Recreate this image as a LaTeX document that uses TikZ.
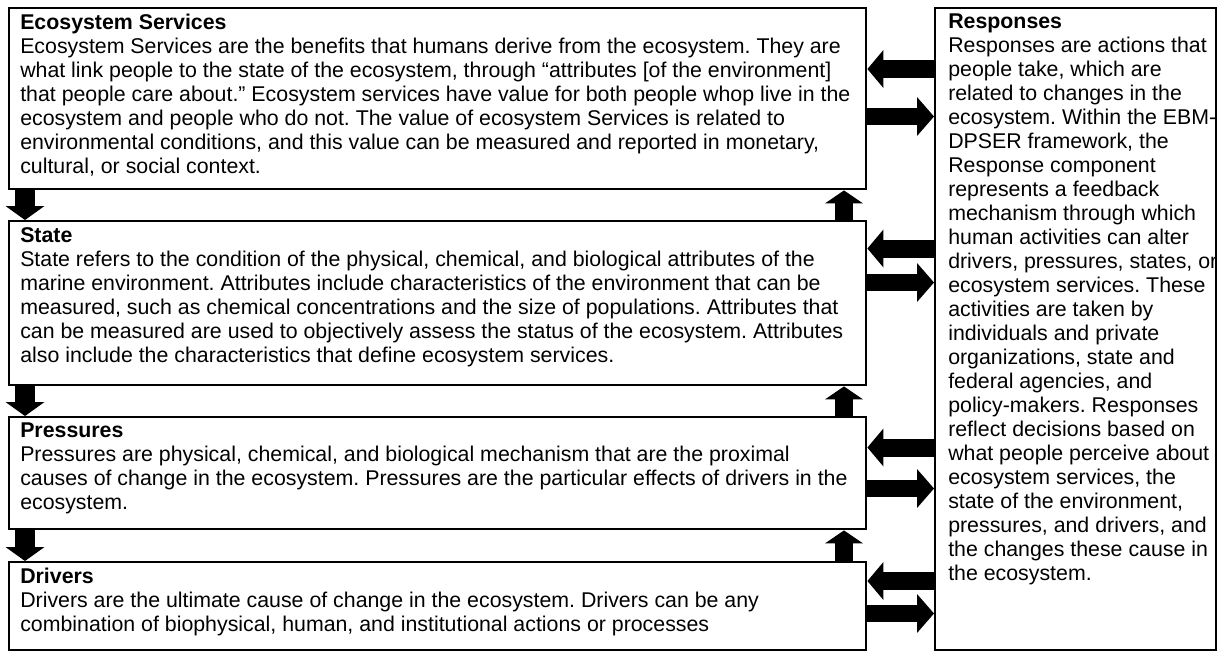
\documentclass[tikz,border=0pt]{standalone}
\usepackage{fontspec}
\setmainfont{Liberation Sans}
\usetikzlibrary{arrows.meta,calc}
\tikzset{
  frame/.style={draw=black, line width=1.8pt, fill=white, inner sep=0pt, anchor=north west},
  txt/.style={anchor=north west, inner sep=0pt, align=left, font=\fontsize{16}{18}\selectfont\frenchspacing},
  vdown/.style={line width=15pt, -{Triangle[length=10.5pt, width=29.25pt, line width=0pt]}},
  vup/.style={line width=13.5pt, -{Triangle[length=9.75pt, width=28.5pt, line width=0pt]}},
  hleft/.style={line width=13.5pt, -{Triangle[length=12pt, width=28.5pt, line width=0pt]}},
  hright/.style={line width=12.75pt, -{Triangle[length=12.75pt, width=29.25pt, line width=0pt]}}
}
\begin{document}
\begin{tikzpicture}[x=0.75pt, y=-0.75pt]
\useasboundingbox (0,0) rectangle (1217,651);
\fill[white] (0,0) rectangle (1217,651);
% boxes
\node[frame, minimum width=642.75pt, minimum height=135.75pt] (ES) at (8,7) {};
\node[frame, minimum width=642.75pt, minimum height=123pt] (ST) at (8,220) {};
\node[frame, minimum width=642.75pt, minimum height=84pt] (PR) at (8,416) {};
\node[frame, minimum width=642.75pt, minimum height=66pt] (DR) at (8,561) {};
\node[frame, minimum width=210.75pt, minimum height=481.5pt] (RS) at (934,7) {};
% down arrows
\draw[vdown] (ES.south -| 25,0) -- (ST.north -| 25,0);
\draw[vdown] (ST.south -| 25,0) -- (PR.north -| 25,0);
\draw[vdown] (PR.south -| 25,0) -- (DR.north -| 25,0);
% up arrows
\draw[vup] (ST.north -| 844,0) -- (ES.south -| 844,0);
\draw[vup] (PR.north -| 844,0) -- (ST.south -| 844,0);
\draw[vup] (DR.north -| 844,0) -- (PR.south -| 844,0);
% responses arrows
\draw[hleft] (RS.west |- 0,69) -- (ES.east |- 0,69);
\draw[hright] (ES.east |- 0,116.5) -- (RS.west |- 0,116.5);
\draw[hleft] (RS.west |- 0,248.5) -- (ST.east |- 0,248.5);
\draw[hright] (ST.east |- 0,282.5) -- (RS.west |- 0,282.5);
\draw[hleft] (RS.west |- 0,447.5) -- (PR.east |- 0,447.5);
\draw[hright] (PR.east |- 0,488.5) -- (RS.west |- 0,488.5);
\draw[hleft] (RS.west |- 0,581) -- (DR.east |- 0,581);
\draw[hright] (DR.east |- 0,613.5) -- (RS.west |- 0,613.5);
% texts
\node[txt] (EStxt) at ($(ES.north west)+(12,7)$) {{\bfseries Ecosystem Services}\\
Ecosystem Services are the benefits that humans derive from the ecosystem. They are\\
what link people to the state of the ecosystem, through “attributes [of the environment]\\
that people care about.” Ecosystem services have value for both people whop live in the\\
ecosystem and people who do not. The value of ecosystem Services is related to\\
environmental conditions, and this value can be measured and reported in monetary,\\
cultural, or social context.};
\node[txt] (STtxt) at ($(ST.north west)+(12,7)$) {{\bfseries State}\\
State refers to the condition of the physical, chemical, and biological attributes of the\\
marine environment. Attributes include characteristics of the environment that can be\\
measured, such as chemical concentrations and the size of populations. Attributes that\\
can be measured are used to objectively assess the status of the ecosystem. Attributes\\
also include the characteristics that define ecosystem services.};
\node[txt] (PRtxt) at ($(PR.north west)+(12,7)$) {{\bfseries Pressures}\\
Pressures are physical, chemical, and biological mechanism that are the proximal\\
causes of change in the ecosystem. Pressures are the particular effects of drivers in the\\
ecosystem.};
\node[txt] (DRtxt) at ($(DR.north west)+(12,7)$) {{\bfseries Drivers}\\
Drivers are the ultimate cause of change in the ecosystem. Drivers can be any\\
combination of biophysical, human, and institutional actions or processes};
\node[txt] (RStxt) at ($(RS.north west)+(14,7)$) {{\bfseries Responses}\\
Responses are actions that\\
people take, which are\\
related to changes in the\\
ecosystem. Within the EBM-\\
DPSER framework, the\\
Response component\\
represents a feedback\\
mechanism through which\\
human activities can alter\\
\makebox[201.75pt][s]{drivers, pressures, states, or}\\
ecosystem services. These\\
activities are taken by\\
individuals and private\\
organizations, state and\\
federal agencies, and\\
policy-makers. Responses\\
reflect decisions based on\\
what people perceive about\\
ecosystem services, the\\
state of the environment,\\
pressures, and drivers, and\\
the changes these cause in\\
the ecosystem.};
\end{tikzpicture}
\end{document}
